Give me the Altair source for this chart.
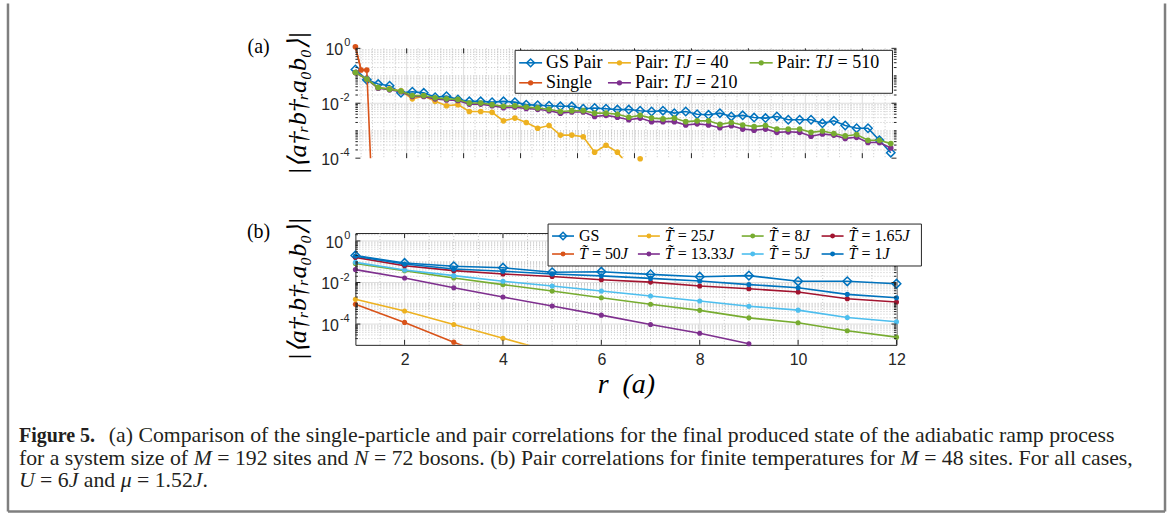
import altair as alt
import pandas as pd

# MATLAB default colour order
BLUE, ORANGE, YELLOW, PURPLE = "#0072BD", "#D95319", "#EDB120", "#7E2F8E"
GREEN, CYAN, RED = "#77AC30", "#4DBEEE", "#A2142F"
INK = "#262626"
SERIF = "Liberation Serif"
SANS = "Liberation Sans"
YLABEL = "|⟨a†ᵣb†ᵣa₀b₀⟩|"

# ---------------- (a) M = 192, N = 72 : log10 |<a_r^+ b_r^+ a_0 b_0>| ----------------
r_pair = list(range(1, 96, 2))
gs_pair = [-0.77, -1.14, -1.30, -1.36, -1.62, -1.58, -1.62, -1.78, -1.74, -1.86,
           -1.93, -1.93, -1.96, -1.93, -1.96, -2.05, -2.07, -2.09, -2.11, -2.11,
           -2.20, -2.17, -2.20, -2.23, -2.23, -2.27, -2.30, -2.27, -2.36, -2.30,
           -2.40, -2.42, -2.36, -2.48, -2.44, -2.52, -2.54, -2.48, -2.60, -2.60,
           -2.60, -2.73, -2.64, -2.81, -2.91, -2.91, -3.35, -3.80]
pair_tj510 = [-0.88, -1.12, -1.43, -1.49, -1.56, -1.72, -1.72, -1.80, -1.84, -1.86,
              -1.99, -1.99, -2.05, -2.11, -2.09, -2.14, -2.17, -2.22, -2.30, -2.27,
              -2.27, -2.36, -2.36, -2.40, -2.51, -2.44, -2.54, -2.57, -2.54, -2.67,
              -2.64, -2.64, -2.77, -2.70, -2.79, -2.85, -2.81, -2.94, -2.94, -2.94,
              -3.06, -3.01, -3.10, -3.19, -3.14, -3.35, -3.35, -3.47]
pair_tj210 = [-0.88, -1.12, -1.45, -1.51, -1.58, -1.75, -1.75, -1.84, -1.88, -1.90,
              -2.03, -2.03, -2.09, -2.16, -2.14, -2.19, -2.22, -2.27, -2.36, -2.32,
              -2.32, -2.48, -2.44, -2.51, -2.60, -2.54, -2.67, -2.67, -2.67, -2.79,
              -2.75, -2.79, -2.89, -2.82, -2.94, -2.98, -2.94, -3.06, -3.04, -3.06,
              -3.20, -3.12, -3.16, -3.28, -3.24, -3.43, -3.43, -3.63]
r_tj40 = list(range(1, 54, 2))
pair_tj40 = [-0.88, -1.12, -1.43, -1.47, -1.55, -1.84, -1.74, -1.93, -2.09, -2.05,
             -2.30, -2.30, -2.33, -2.64, -2.54, -2.70, -2.91, -2.81, -3.16, -3.16,
             -3.22, -3.78, -3.53, -3.78, -4.30, -4.02, -4.50]
r_single = [1, 2, 3, 4]
single = [0.06, -0.79, -0.79, -5.70]

# ---------------- (b) M = 48, finite temperatures ----------------
r_b = list(range(1, 13))
gs_b = [-0.70, -1.06, -1.22, -1.29, -1.51, -1.48, -1.61, -1.72, -1.67, -1.94, -1.94, -2.06]
t_1 = [-0.73, -1.11, -1.35, -1.46, -1.59, -1.68, -1.80, -1.93, -2.10, -2.25, -2.57, -2.73]
t_165 = [-0.79, -1.19, -1.43, -1.59, -1.71, -1.87, -1.98, -2.17, -2.30, -2.46, -2.78, -2.94]
t_5 = [-1.03, -1.40, -1.67, -1.94, -2.17, -2.41, -2.65, -2.89, -3.14, -3.33, -3.68, -3.89]
t_8 = [-1.08, -1.43, -1.78, -2.10, -2.41, -2.73, -3.05, -3.34, -3.70, -3.94, -4.32, -4.63]
t_1333 = [-1.38, -1.78, -2.25, -2.70, -3.13, -3.57, -4.02, -4.44, -4.95]
t_25 = [-2.81, -3.37, -4.02, -4.68, -5.34]
t_50 = [-3.05, -3.92, -4.87, -5.80]

xticks_a = [10, 20, 30, 40, 50, 60, 70, 80, 90]
xticks_b = [2, 4, 6, 8, 10, 12]
ytick_exp_a = ["0", "-2", "-4"]
ytick_exp_b = ["0", "-2", "-4"]

# page and panel geometry (pixels)
PAGE_W, PAGE_H = 1174, 515
LEFT, TOP_A, GAP = 355, 47, 75
WA, HA = 542, 110
WB, HB = 542, 112
TOP_B = TOP_A + HA + GAP

# advance widths (em) of the Times-metric serif, used to set mixed roman/italic runs
ROMAN = {" ": .25, "!": .333, "(": .333, ")": .333, ",": .25, "-": .333, ".": .25,
         ":": .278, "=": .564, "\u0303": 0}
ROMAN.update({d: .5 for d in "0123456789"})
ROMAN.update(dict(zip("ABCDEFGHIJKLMNOPQRSTUVWXYZ",
                      [.722, .667, .667, .722, .611, .556, .722, .722, .333, .389, .722, .611,
                       .889, .722, .722, .556, .722, .667, .556, .611, .722, .722, .944, .722,
                       .722, .611])))
ROMAN.update(dict(zip("abcdefghijklmnopqrstuvwxyz",
                      [.444, .5, .444, .5, .444, .333, .5, .5, .278, .278, .5, .278, .778, .5,
                       .5, .5, .5, .333, .389, .278, .5, .5, .722, .5, .5, .444])))
ITALIC = {"M": .833, "N": .667, "U": .722, "J": .444, "T": .556, "\u03bc": .5, "\u0303": 0}


def run_width(s, italic, size):
    table = ITALIC if italic else ROMAN
    return size * sum(table.get(ch, ROMAN.get(ch, .5)) for ch in s)


def rich_rows(segments, x0, size):
    rows, x = [], x0
    for s, italic in segments:
        core = s.strip(" ")
        lead = len(s) - len(s.lstrip(" "))
        trail = len(s) - len(s.rstrip(" "))
        x += lead * .25 * size
        if core:
            rows.append(dict(t=core, x=x, it=italic))
        x += run_width(core, italic, size) + trail * .25 * size
    return rows


def rich_layers(rows, size, color="black", baseline="middle"):
    df = pd.DataFrame(rows)
    out = []
    for italic in (False, True):
        sub = df[df.it == italic]
        if len(sub):
            out.append(alt.Chart(sub).mark_text(
                align="left", baseline=baseline, font=SERIF, fontSize=size, color=color,
                fontStyle="italic" if italic else "normal").encode(
                x=alt.X("x:Q", scale=None), y=alt.Y("y:Q", scale=None), text="t:N"))
    return out


def series_layers(xv, logs, color, diamond, xs, ys, xaxis, msize, lo, hi, head=0):
    """Line and markers of one curve; the first `head` points are also drawn unclipped."""
    df = pd.DataFrame({"r": xv, "v": [10.0 ** e for e in logs]})
    enc = dict(x=alt.X("r:Q", scale=xs, axis=xaxis), y=alt.Y("v:Q", scale=ys, axis=None))
    out = [alt.Chart(df).mark_line(color=color, strokeWidth=1.6, clip=True).encode(**enc)]
    if head:
        out.append(alt.Chart(df.iloc[:head]).mark_line(color=color, strokeWidth=1.6,
                                                       clip=False).encode(**enc))
    inside = df[(df.v >= lo) & (df.v <= hi)]
    if diamond:
        mk = alt.Chart(inside).mark_point(shape="diamond", filled=False, color=color,
                                          strokeWidth=1.5, size=msize, opacity=1)
    else:
        mk = alt.Chart(inside).mark_circle(color=color, size=msize, opacity=1)
    return out + [mk.encode(**enc)]


def frame_layers(xs, ys, xaxis, W, H, xmajor, xminor, ymajor, yminor, ygrid):
    def vr(vals, **kw):
        return alt.Chart(pd.DataFrame({"r": vals})).mark_rule(**kw).encode(
            x=alt.X("r:Q", scale=xs, axis=xaxis))

    def hr(vals, **kw):
        return alt.Chart(pd.DataFrame({"v": vals})).mark_rule(**kw).encode(
            y=alt.Y("v:Q", scale=ys, axis=None))

    minor = dict(color="#b8b8b8", strokeWidth=0.8, strokeDash=[1, 2])
    major = dict(color="#dedede", strokeWidth=1)
    grids = [vr(xminor, **minor), hr(yminor, **minor), vr(xmajor, **major), hr(ygrid, **major)]

    def xt(y0, y1):
        return alt.Chart(pd.DataFrame({"r": xmajor})).mark_rule(color=INK, strokeWidth=1).encode(
            x=alt.X("r:Q", scale=xs, axis=xaxis), y=alt.value(y0), y2=alt.value(y1))

    def yt(vals, x0, x1):
        return alt.Chart(pd.DataFrame({"v": vals})).mark_rule(color=INK, strokeWidth=1).encode(
            y=alt.Y("v:Q", scale=ys, axis=None), x=alt.value(x0), x2=alt.value(x1))

    ticks = [xt(H, H - 5), xt(0, 5), yt(ymajor, 0, 5), yt(ymajor, W - 5, W),
             yt(yminor, 0, 2.5), yt(yminor, W - 2.5, W)]
    return grids, ticks


def ylabel_layers(vals, exps, ys):
    recs = []
    for v, e in zip(vals, exps):
        ew = 6.2 if len(e) == 1 else 10.5
        recs.append(dict(v=v, e=e, bx=-6 - ew, ex=-5 - ew, b="10"))
    df = pd.DataFrame(recs)
    base = alt.Chart(df).mark_text(align="right", baseline="middle", font=SANS, fontSize=16,
                                   color=INK, dy=2).encode(
        x=alt.X("bx:Q", scale=None), y=alt.Y("v:Q", scale=ys, axis=None), text="b:N")
    sup = alt.Chart(df).mark_text(align="left", baseline="middle", font=SANS, fontSize=11,
                                  color=INK, dy=-5).encode(
        x=alt.X("ex:Q", scale=None), y=alt.Y("v:Q", scale=ys, axis=None), text="e:N")
    return [base, sup]


def legend_layers(entries, box, rows, cols, line_len, text_gap, msize_d, msize_c, fsize):
    recs, words = [], []
    for segs, color, diamond, c, rw in entries:
        x0 = cols[c]
        recs.append(dict(color=color, d=diamond, x0=x0, x1=x0 + line_len,
                         xm=x0 + line_len / 2, y=rows[rw]))
        for w in rich_rows(segs, x0 + text_gap, fsize):
            words.append(dict(w, y=rows[rw]))
    df = pd.DataFrame(recs)
    bx0, by0, bx1, by1 = box
    frame = alt.Chart(pd.DataFrame({"k": [0]})).mark_rect(
        fill="white", stroke=INK, strokeWidth=1).encode(
        x=alt.value(bx0), x2=alt.value(bx1), y=alt.value(by0), y2=alt.value(by1))
    pos = dict(y=alt.Y("y:Q", scale=None), color=alt.Color("color:N", scale=None, legend=None))
    rules = alt.Chart(df).mark_rule(strokeWidth=1.6).encode(
        x=alt.X("x0:Q", scale=None), x2="x1:Q", **pos)
    dia = alt.Chart(df[df.d]).mark_point(shape="diamond", filled=False, size=msize_d,
                                        strokeWidth=1.5, opacity=1).encode(
        x=alt.X("xm:Q", scale=None), **pos)
    dots = alt.Chart(df[~df.d]).mark_circle(size=msize_c, opacity=1).encode(
        x=alt.X("xm:Q", scale=None), **pos)
    return [frame, rules, dia, dots] + rich_layers(words, fsize)


def text_at(s, x, y, **kw):
    return alt.Chart(pd.DataFrame({"t": [s]})).mark_text(**kw).encode(
        x=alt.value(x), y=alt.value(y), text="t:N")


def decade_minor(k0, k1, top):
    out = []
    for k in range(k0, k1):
        for m in range(1, 10):
            v = m * 10.0 ** k
            if v <= top:
                out.append(v)
    return out


def xaxis_for(values):
    return alt.Axis(values=values, domain=False, ticks=False, grid=False, labelFont=SANS,
                    labelFontSize=16, labelColor=INK, labelPadding=7, labelFlush=False,
                    labelOverlap=False, title="r\u2002(a)", titleFont=SERIF,
                    titleFontStyle="italic", titleFontWeight="normal", titleFontSize=28,
                    titleColor="black", titlePadding=3)


# ---------------- panel (a) ----------------
xs_a = alt.Scale(domain=[1, 96], nice=False, zero=False)
ys_a = alt.Scale(type="log", domain=[1e-4, 1], nice=False)
xax_a = xaxis_for(xticks_a)

# white page behind everything; it also fixes the drawing's outer bounds
page = alt.Chart(pd.DataFrame({"k": [0]})).mark_rect(fill="white", strokeWidth=0).encode(
    x=alt.value(-LEFT), x2=alt.value(PAGE_W - LEFT), y=alt.value(-TOP_A),
    y2=alt.value(PAGE_H - TOP_A))

ymin_a = [v for v in decade_minor(-4, 0, 1) if v not in (1e-4, 1e-2)]
grids_a, ticks_a = frame_layers(xs_a, ys_a, xax_a, WA, HA, xticks_a,
                                [v for v in range(2, 96, 2) if v % 10], [1, 1e-2, 1e-4],
                                ymin_a, [1e-2])

layers_a = [page] + list(grids_a)
for xv, logs, color, dia, head in [(r_pair, gs_pair, BLUE, True, 0),
                                   (r_single, single, ORANGE, False, 3),
                                   (r_tj40, pair_tj40, YELLOW, False, 0),
                                   (r_pair, pair_tj210, PURPLE, False, 0),
                                   (r_pair, pair_tj510, GREEN, False, 0)]:
    layers_a += series_layers(xv, logs, color, dia, xs_a, ys_a, xax_a,
                              70 if dia else 32, 10 ** -4.1, 10 ** 0.1, head)
layers_a += ticks_a
layers_a += ylabel_layers([1, 1e-2, 1e-4], ytick_exp_a, ys_a)


def pair_label(n):
    return [("Pair: ", False), ("TJ", True), (f" = {n}", False)]


layers_a += legend_layers(
    [([("GS Pair", False)], BLUE, True, 0, 0), (pair_label(40), YELLOW, False, 1, 0),
     (pair_label(510), GREEN, False, 2, 0), ([("Single", False)], ORANGE, False, 0, 1),
     (pair_label(210), PURPLE, False, 1, 1)],
    box=(160, 2, 538, 45), rows=[14.5, 34.5], cols=[164, 253, 395],
    line_len=23, text_gap=27, msize_d=60, msize_c=28, fsize=18)
layers_a += [
    text_at(YLABEL, -57, HA / 2, angle=270, font=SERIF, fontStyle="italic", fontSize=26,
            color="black", baseline="middle", align="center"),
    text_at("(a)", -97, -1, font=SERIF, fontSize=20, color="black", baseline="middle",
            align="center"),
]
panel_a = alt.layer(*layers_a).properties(width=WA, height=HA)

# ---------------- panel (b) ----------------
xs_b = alt.Scale(domain=[1, 12], nice=False, zero=False)
ys_b = alt.Scale(type="log", domain=[1e-5, 2.4], nice=False)
xax_b = xaxis_for(xticks_b)

ymin_b = [v for v in decade_minor(-5, 1, 2.4) if v not in (1e-5, 1e-4, 1e-2, 1)]
grids_b, ticks_b = frame_layers(xs_b, ys_b, xax_b, WB, HB, xticks_b,
                                [1 + 0.5 * i for i in range(1, 22) if (1 + 0.5 * i) % 2],
                                [1, 1e-2, 1e-4], ymin_b, [1, 1e-2, 1e-4])

layers_b = list(grids_b)
for logs, color, dia in [(gs_b, BLUE, True), (t_50, ORANGE, False), (t_25, YELLOW, False),
                         (t_1333, PURPLE, False), (t_8, GREEN, False), (t_5, CYAN, False),
                         (t_165, RED, False), (t_1, BLUE, False)]:
    layers_b += series_layers(r_b[:len(logs)], logs, color, dia, xs_b, ys_b, xax_b,
                              75 if dia else 26, 10 ** -5.05, 2.4)
layers_b += ticks_b
layers_b += ylabel_layers([1, 1e-2, 1e-4], ytick_exp_b, ys_b)


def temp_label(t):
    return [("T\u0303", True), (f" = {t}", False), ("J", True)]


layers_b += legend_layers(
    [([("GS", False)], BLUE, True, 0, 0), (temp_label("25"), YELLOW, False, 1, 0),
     (temp_label("8"), GREEN, False, 2, 0), (temp_label("1.65"), RED, False, 3, 0),
     (temp_label("50"), ORANGE, False, 0, 1), (temp_label("13.33"), PURPLE, False, 1, 1),
     (temp_label("5"), CYAN, False, 2, 1), (temp_label("1"), BLUE, False, 3, 1)],
    box=(193, -9, 567, 33), rows=[3, 21], cols=[197, 283, 387, 467],
    line_len=22, text_gap=27, msize_d=55, msize_c=24, fsize=16)
layers_b += [
    text_at(YLABEL, -57, HB / 2, angle=270, font=SERIF, fontStyle="italic", fontSize=26,
            color="black", baseline="middle", align="center"),
    text_at("(b)", -97, -1, font=SERIF, fontSize=20, color="black", baseline="middle",
            align="center"),
]


# caption and the frame round the figure box (left, right and bottom sides)
def edge(x0, x1, y0, y1):
    return alt.Chart(pd.DataFrame({"k": [0]})).mark_rule(color="#7f7f7f", strokeWidth=2.5).encode(
        x=alt.value(x0 - LEFT), x2=alt.value(x1 - LEFT), y=alt.value(y0 - TOP_B),
        y2=alt.value(y1 - TOP_B))


CAP = 21.8
caption_lines = [
    (108, 441, [("(a) Comparison of the single-particle and pair correlations for the final "
                 "produced state of the adiabatic ramp process", False)]),
    (18, 464, [("for a system size of ", False), ("M", True), (" = 192 sites and ", False),
               ("N", True), (" = 72 bosons. (b) Pair correlations for finite temperatures for ",
                             False),
               ("M", True), (" = 48 sites. For all cases,", False)]),
    (18, 486, [("U", True), (" = 6", False), ("J", True), (" and ", False), ("\u03bc", True),
               (" = 1.52", False), ("J", True), (".", False)]),
]
cap_words = []
for x0, y0, segs in caption_lines:
    for w in rich_rows(segs, x0 - LEFT, CAP):
        cap_words.append(dict(w, y=y0 - TOP_B))

layers_b += [edge(7, 7, 2, 511), edge(1166, 1166, 2, 511), edge(7, 1166, 511, 511),
             text_at("Figure 5.", 18 - LEFT, 441 - TOP_B, fontWeight="bold", font=SERIF,
                     fontSize=20, color="#231f20", align="left", baseline="alphabetic")]
layers_b += rich_layers(cap_words, CAP, color="#231f20", baseline="alphabetic")
panel_b = alt.layer(*layers_b).properties(width=WB, height=HB)

chart = alt.vconcat(panel_a, panel_b, spacing=GAP, bounds="flush").properties(
    autosize=alt.AutoSizeParams(type="pad"),
    padding=0,
    background="white",
).configure_view(stroke=INK, strokeWidth=1)

chart.save("out.html", embed_options={"renderer": "svg", "actions": False})
